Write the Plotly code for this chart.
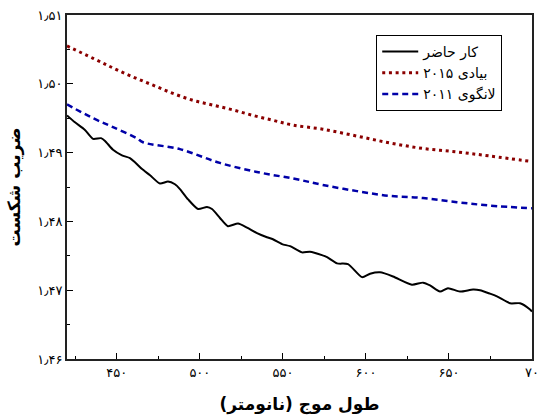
import plotly.graph_objects as go

# ---- data ----
wl_this = [420, 424.8, 430.8, 435.7, 440.5, 442.9, 447.7, 453.1, 457.9, 460.9, 465.2, 470.0,
           476.0, 480.8, 485.0, 488.0, 492.9, 498.9, 504.3, 507.3, 512.1, 516.9, 523.0, 528.4,
           534.4, 540.4, 544.0, 549.5, 554.3, 561.5, 566.3, 573.5, 576.6, 582.6, 589.2, 597.6,
           602.5, 608.5, 616.3, 627.7, 634.4, 638.6, 644.6, 649.4, 656.6, 664.5, 668.7, 674.7,
           678.9, 686.8, 692.8, 698.8, 700]
n_this = [1.4954, 1.4944, 1.4933, 1.4920, 1.4921, 1.4917, 1.4904, 1.4896, 1.4892, 1.4886, 1.4876, 1.4867,
          1.4855, 1.4858, 1.4854, 1.4847, 1.4832, 1.4818, 1.4821, 1.4818, 1.4805, 1.4793, 1.4797, 1.4791,
          1.4783, 1.4777, 1.4774, 1.4767, 1.4764, 1.4755, 1.4756, 1.4751, 1.4748, 1.4739, 1.4738, 1.4719,
          1.4724, 1.4726, 1.4720, 1.4708, 1.4711, 1.4707, 1.4698, 1.4703, 1.4698, 1.4701, 1.4700, 1.4695,
          1.4691, 1.4681, 1.4681, 1.4672, 1.4669]

wl_bayadi = [420, 435.7, 447.7, 459.7, 471.8, 483.8, 495.9, 507.9, 520.0, 532, 544, 556,
             574, 594.6, 614.5, 634.4, 654.8, 674.7, 700]
n_bayadi = [1.5055, 1.5037, 1.5023, 1.5010, 1.4998, 1.4986, 1.4976, 1.4969, 1.4962, 1.4954, 1.4947, 1.4940,
            1.4934, 1.4924, 1.4914, 1.4906, 1.4901, 1.4895, 1.4887]

wl_langway = [420, 435.7, 447.7, 462, 465.8, 488, 512, 536, 557, 574, 594.6, 614.5,
              634.4, 654.8, 674.7, 700]
n_langway = [1.4970, 1.4950, 1.4937, 1.4921, 1.4915, 1.4905, 1.4885, 1.4871, 1.4862, 1.4853, 1.4844, 1.4837,
             1.4834, 1.4828, 1.4823, 1.4819]

series_names = ["کار حاضر", "بیادی ۲۰۱۵", "لانگوی ۲۰۱۱"]

x_tickvals = [450, 500, 550, 600, 650, 700]
x_ticktext = ["۴۵۰", "۵۰۰", "۵۵۰", "۶۰۰", "۶۵۰", "۷۰"]
y_tickvals = [1.46, 1.47, 1.48, 1.49, 1.50, 1.51]
y_ticktext = ["۱٫۴۶", "۱٫۴۷", "۱٫۴۸", "۱٫۴۹", "۱٫۵۰", "۱٫۵۱"]

x_title = "طول موج (نانومتر)"
y_title = "ضریب شکست"

FONT = "DejaVu Sans"

fig = go.Figure()
fig.add_trace(go.Scatter(x=wl_this, y=n_this, mode="lines", name=series_names[0],
                         line=dict(color="#000000", width=2, shape="spline", smoothing=0.6)))
fig.add_trace(go.Scatter(x=wl_bayadi, y=n_bayadi, mode="lines", name=series_names[1],
                         line=dict(color="#8B0000", width=3, dash="3px,3.7px", shape="spline")))
fig.add_trace(go.Scatter(x=wl_langway, y=n_langway, mode="lines", name=series_names[2],
                         line=dict(color="#0000A8", width=2.5, dash="6px,4px", shape="spline")))

fig.update_layout(
    width=547, height=420,
    margin=dict(l=67, r=15, t=15, b=61, autoexpand=False),
    paper_bgcolor="white", plot_bgcolor="white",
    font=dict(family=FONT, size=12, color="black"),
    showlegend=True,
    legend=dict(x=0.665, y=0.942, xanchor="left", yanchor="top",
                bordercolor="black", borderwidth=1, bgcolor="white",
                font=dict(family=FONT, size=14, color="black"),
                itemwidth=36, tracegroupgap=0, entrywidth=100, entrywidthmode="pixels"),
)
fig.update_xaxes(
    range=[420, 700], tickmode="array", tickvals=x_tickvals, ticktext=x_ticktext,
    ticks="inside", ticklen=6, tickwidth=1, tickcolor="black",
    minor=dict(tickmode="linear", tick0=425, dtick=50, ticks="inside", ticklen=3, tickcolor="black"),
    showline=True, linecolor="#222", linewidth=2, mirror=True,
    showgrid=False, zeroline=False, automargin=False,
    tickfont=dict(family=FONT, size=13),
    title=dict(text=x_title, font=dict(family=FONT, size=17, weight="bold"), standoff=20),
)
fig.update_yaxes(
    range=[1.46, 1.51], tickmode="array", tickvals=y_tickvals, ticktext=y_ticktext,
    ticks="inside", ticklen=6, tickwidth=1, tickcolor="black",
    minor=dict(tickmode="linear", tick0=1.465, dtick=0.01, ticks="inside", ticklen=3, tickcolor="black"),
    showline=True, linecolor="#222", linewidth=2, mirror=True,
    showgrid=False, zeroline=False, automargin=False,
    tickfont=dict(family=FONT, size=13),
    title=dict(text=y_title, font=dict(family=FONT, size=17, weight="bold"), standoff=12),
)

fig.write_html("out.html", config={"displayModeBar": False},
               post_script="document.body.style.margin='0';")
